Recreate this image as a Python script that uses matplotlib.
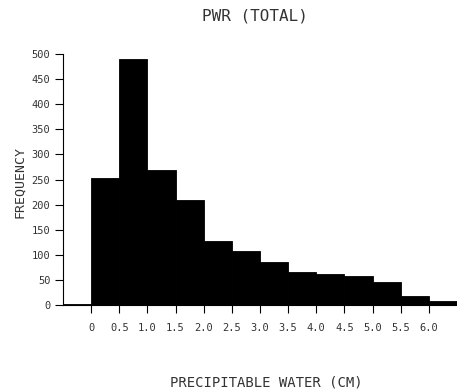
import matplotlib
matplotlib.use("Agg")
import matplotlib.pyplot as plt

bin_edges = [-0.5, 0.0, 0.5, 1.0, 1.5, 2.0, 2.5, 3.0, 3.5, 4.0, 4.5, 5.0, 5.5, 6.0, 6.5]
frequency = [2, 252, 490, 268, 210, 128, 107, 86, 66, 61, 58, 46, 17, 8]
x_ticks = [0, 0.5, 1.0, 1.5, 2.0, 2.5, 3.0, 3.5, 4.0, 4.5, 5.0, 5.5, 6.0]
x_tick_labels = ["0", "0.5", "1.0", "1.5", "2.0", "2.5", "3.0", "3.5", "4.0", "4.5", "5.0", "5.5", "6.0"]
y_ticks = [0, 50, 100, 150, 200, 250, 300, 350, 400, 450, 500]
y_tick_labels = ["0", "50", "100", "150", "200", "250", "300", "350", "400", "450", "500"]

font = "DejaVu Sans Mono"
txt = "#333333"

fig = plt.figure(figsize=(4.57, 3.92), dpi=100)
ax = fig.add_axes([63/457, 1-305/392, (457-63)/457, (305-54)/392])

lefts = bin_edges[:-1]
widths = [b - a for a, b in zip(bin_edges[:-1], bin_edges[1:])]
ax.bar(lefts, frequency, width=widths, align="edge", color="black",
       edgecolor="black", linewidth=0.6)

ax.set_xlim(-0.5, 6.5)
ax.set_ylim(0, 500)
ax.set_xticks(x_ticks)
ax.set_xticklabels(x_tick_labels, fontsize=7.5, family=font, color=txt)
ax.set_yticks(y_ticks)
ax.set_yticklabels(y_tick_labels, fontsize=7.5, family=font, color=txt)
ax.tick_params(axis="x", direction="out", length=6, width=0.8, pad=7)
ax.tick_params(axis="y", direction="out", length=6, width=0.8, pad=3)

for s in ["top", "right"]:
    ax.spines[s].set_visible(False)
ax.spines["left"].set_linewidth(0.8)
ax.spines["bottom"].set_linewidth(0.8)

fig.text(255/457, 1-16/392, "PWR (TOTAL)", ha="center", va="center",
         fontsize=11.5, family=font, color=txt)
fig.text(266/457, 1-382/392, "PRECIPITABLE WATER (CM)", ha="center", va="center",
         fontsize=10, family=font, color=txt)
fig.text(20/457, 1-182/392, "FREQUENCY", ha="center", va="center", rotation=90,
         fontsize=9.5, family=font, color=txt)

fig.savefig("out.png", dpi=100)
